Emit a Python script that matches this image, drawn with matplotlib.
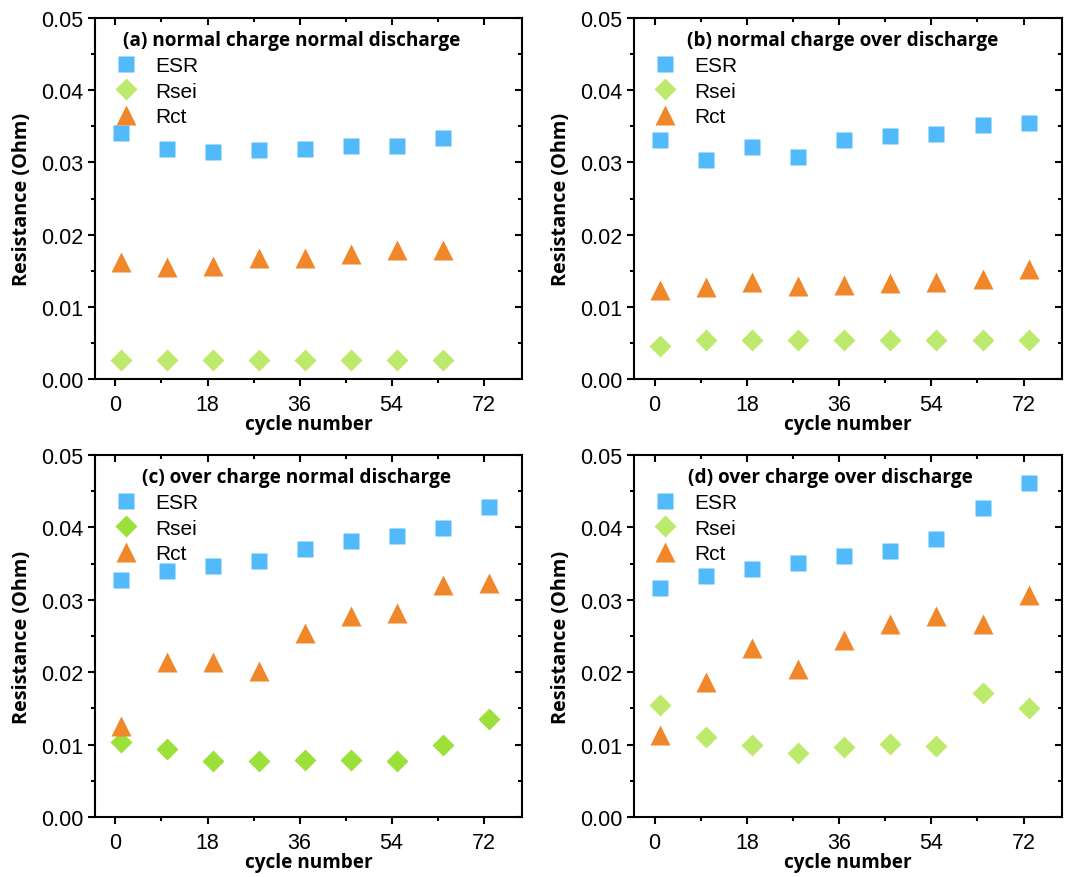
import matplotlib.pyplot as plt
from matplotlib.ticker import MultipleLocator, FormatStrFormatter

cycles_a = [1, 10, 19, 28, 37, 46, 55, 64]
cycles = [1, 10, 19, 28, 37, 46, 55, 64, 73]

# (a) normal charge normal discharge
esr_a = [0.0341, 0.0319, 0.0315, 0.0317, 0.0319, 0.0323, 0.0323, 0.0334]
rsei_a = [0.0026, 0.0026, 0.0026, 0.0026, 0.0026, 0.0026, 0.0026, 0.0026]
rct_a = [0.0162, 0.0155, 0.0157, 0.0167, 0.0167, 0.0173, 0.0178, 0.0178]

# (b) normal charge over discharge
esr_b = [0.0331, 0.0304, 0.0321, 0.0307, 0.0331, 0.0336, 0.0340, 0.0352, 0.0355]
rsei_b = [0.0046, 0.0054, 0.0054, 0.0054, 0.0054, 0.0054, 0.0054, 0.0054, 0.0054]
rct_b = [0.0123, 0.0128, 0.0134, 0.0129, 0.0130, 0.0133, 0.0135, 0.0139, 0.0152]

# (c) over charge normal discharge
esr_c = [0.0328, 0.0340, 0.0346, 0.0354, 0.0370, 0.0381, 0.0388, 0.0399, 0.0428]
rsei_c = [0.0104, 0.0094, 0.0078, 0.0078, 0.0079, 0.0079, 0.0077, 0.0100, 0.0136]
rct_c = [0.0126, 0.0214, 0.0214, 0.0201, 0.0254, 0.0278, 0.0282, 0.0321, 0.0323]

# (d) over charge over discharge
esr_d = [0.0316, 0.0333, 0.0342, 0.0351, 0.0360, 0.0368, 0.0384, 0.0427, 0.0462]
rsei_d = [0.0155, 0.0111, 0.0099, 0.0089, 0.0097, 0.0101, 0.0098, 0.0171, 0.0150]
rct_d = [0.0113, 0.0186, 0.0233, 0.0205, 0.0244, 0.0267, 0.0278, 0.0267, 0.0307]

titles = ['(a) normal charge normal discharge', '(b) normal charge over discharge',
          '(c) over charge normal discharge', '(d) over charge over discharge']

blue = '#52B9FB'
orange = '#F0872A'
green_light = '#BDEA6C'
green_dark = '#9CE03A'

panels = [
    (cycles_a, esr_a, rsei_a, rct_a, green_light, [95, 19, 522, 380], 0.066),
    (cycles, esr_b, rsei_b, rct_b, green_light, [634, 19, 1062, 380], 0.124),
    (cycles, esr_c, rsei_c, rct_c, green_dark, [95, 456, 522, 818], 0.110),
    (cycles, esr_d, rsei_d, rct_d, green_light, [634, 456, 1062, 818], 0.126),
]

W, H = 1081, 878
fig = plt.figure(figsize=(W / 100, H / 100), dpi=100)

for (x, esr, rsei, rct, gcol, box, tx), title in zip(panels, titles):
    l, t, r, b = box
    ax = fig.add_axes([l / W, 1 - b / H, (r - l) / W, (b - t) / H])
    ax.plot(x, esr, 's', color=blue, ms=11, mec='none', label='ESR')
    ax.plot(x, rsei, 'D', color=gcol, ms=11, mec='none', label='Rsei')
    ax.plot(x, rct, '^', color=orange, ms=14, mec='none', label='Rct')

    ax.set_xlim(-4, 79.5)
    ax.set_ylim(0, 0.05)
    ax.xaxis.set_major_locator(MultipleLocator(18))
    ax.xaxis.set_minor_locator(MultipleLocator(9))
    ax.yaxis.set_major_locator(MultipleLocator(0.01))
    ax.yaxis.set_minor_locator(MultipleLocator(0.005))
    ax.yaxis.set_major_formatter(FormatStrFormatter('%.2f'))
    for s in ax.spines.values():
        s.set_linewidth(1.5)
    ax.tick_params(which='both', top=True, right=True, width=1.5,
                   labelsize=15.5, labelfontfamily='Liberation Sans')
    ax.tick_params(which='major', length=5)
    ax.tick_params(which='minor', length=3)
    ax.tick_params(axis='x', which='major', pad=6)
    # top/right ticks point inward, bottom/left outward
    for tk in ax.xaxis.get_major_ticks() + ax.xaxis.get_minor_ticks():
        tk.tick2line.set_marker(3)
    for tk in ax.yaxis.get_major_ticks() + ax.yaxis.get_minor_ticks():
        tk.tick2line.set_marker(0)

    ax.set_xlabel('cycle number', fontsize=13.7, fontweight='bold',
                  family='Open Sans', labelpad=-1)
    ax.set_ylabel('Resistance (Ohm)', fontsize=14.3, fontweight='bold',
                  family='Open Sans', labelpad=6)
    ax.text(tx, 0.94, title, transform=ax.transAxes, fontsize=13.7,
            fontweight='bold', family='Open Sans', va='center', ha='left')
    ax.legend(loc='upper left', bbox_to_anchor=(0.049, 0.895), frameon=False,
              prop={'family': 'Liberation Sans', 'size': 15},
              handlelength=1.0, handletextpad=0.9, labelspacing=0.32,
              borderaxespad=0, borderpad=0)

fig.savefig('out.png', dpi=100)
